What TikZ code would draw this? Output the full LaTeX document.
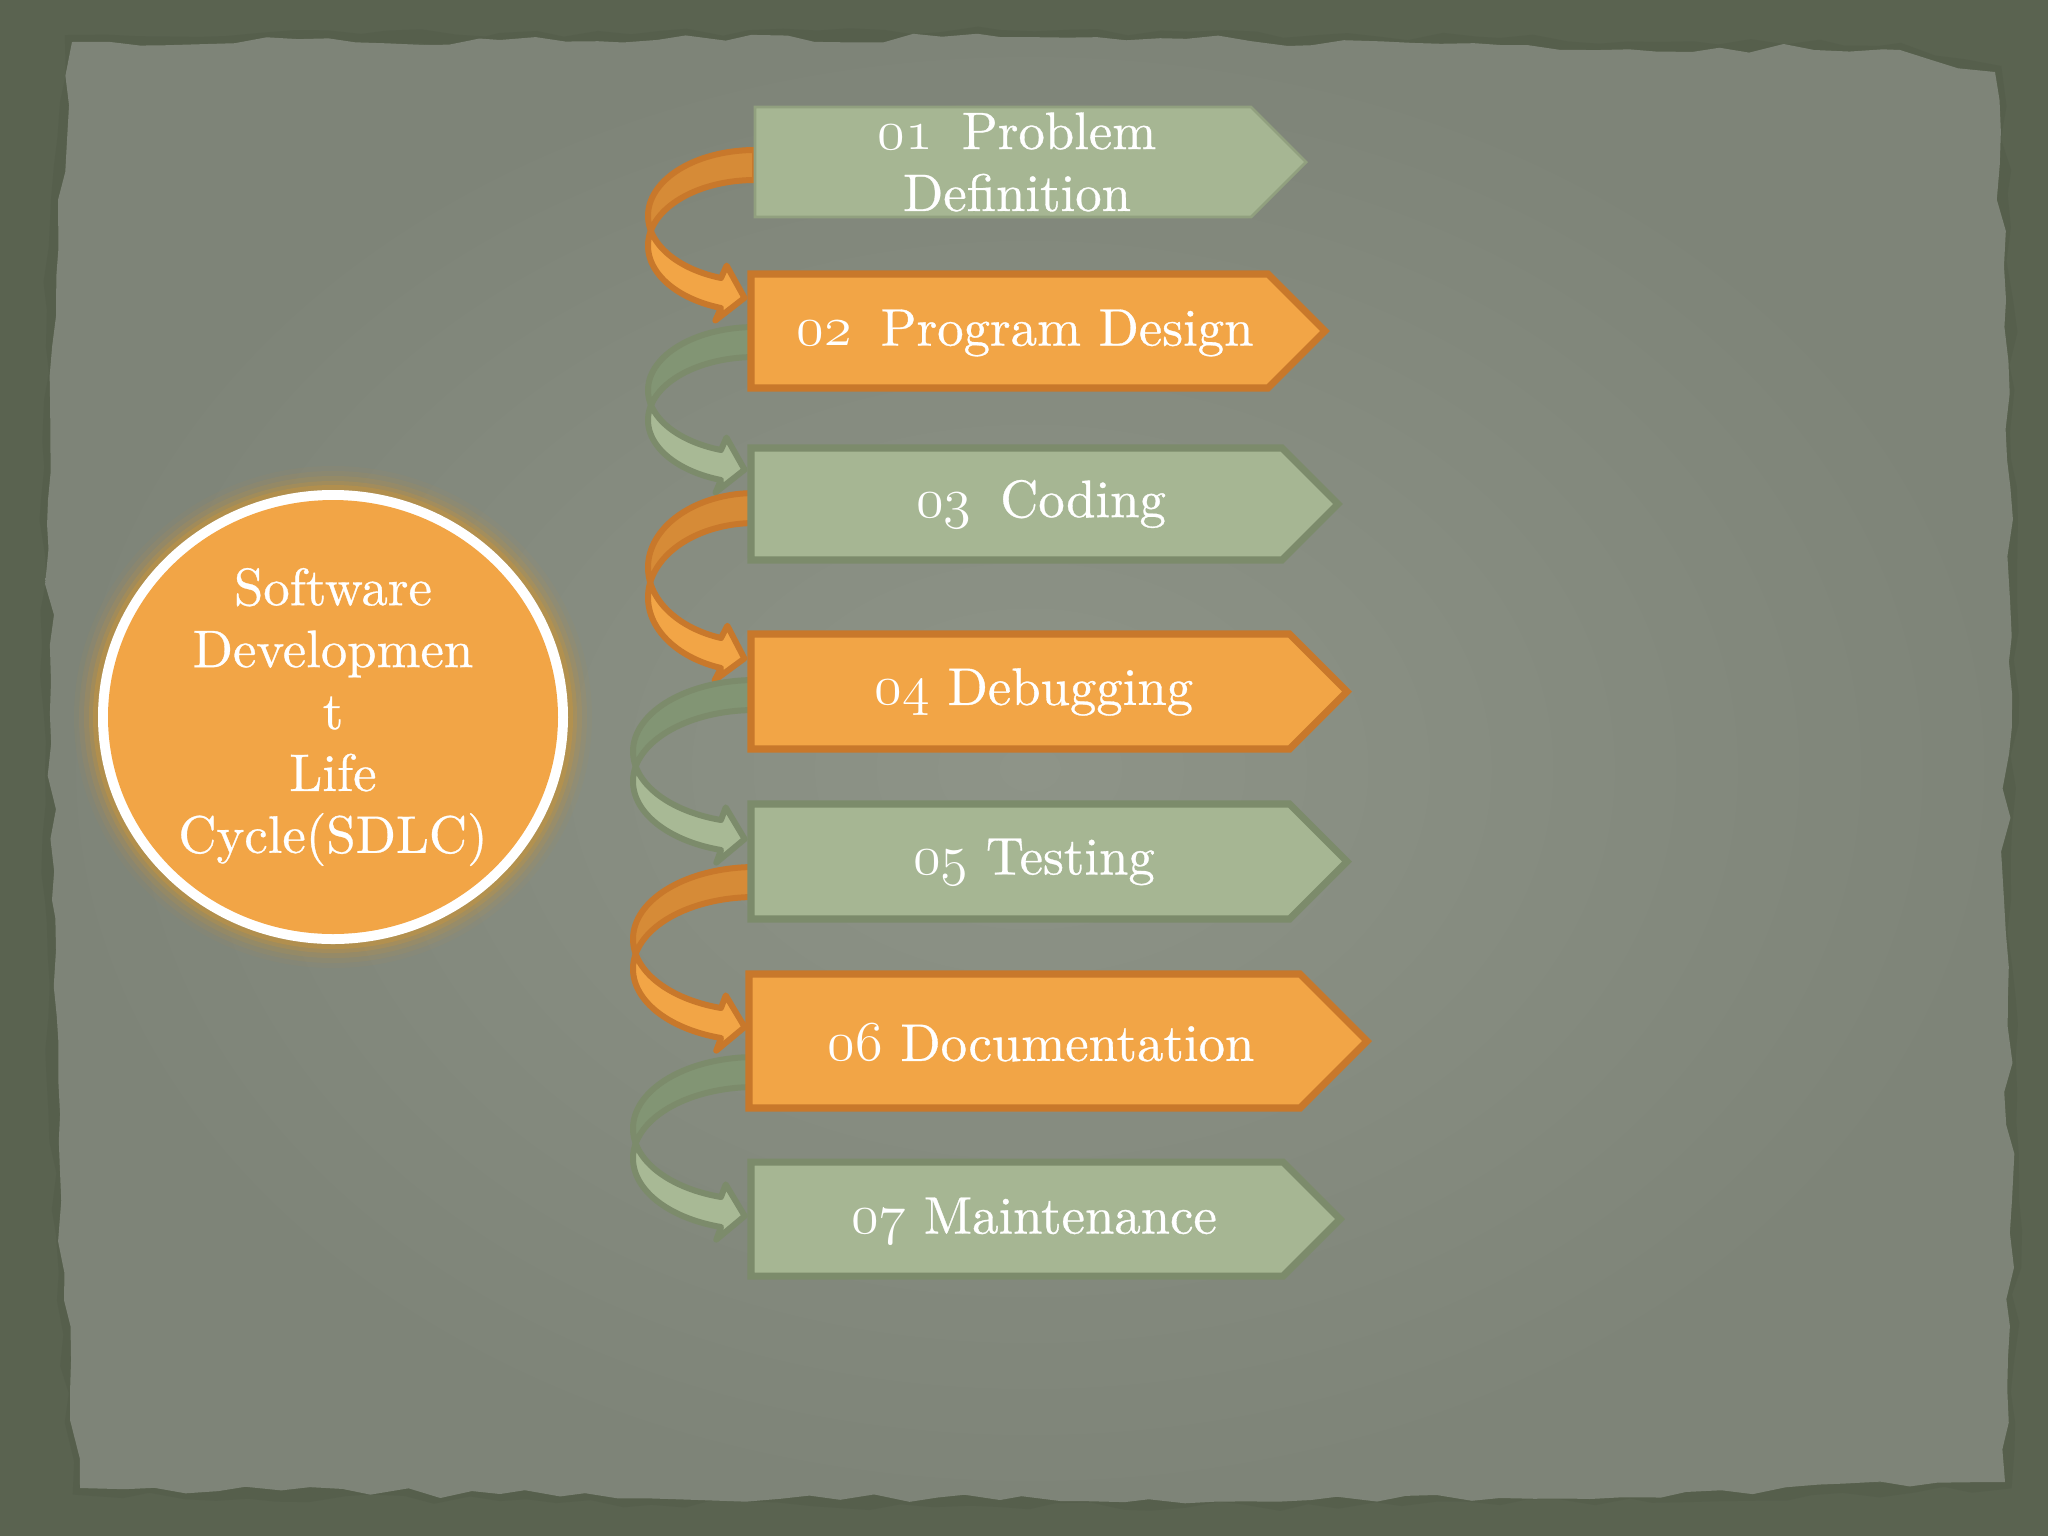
\documentclass[tikz,border=0pt]{standalone}
\usepackage{fix-cm}
\usepackage{fontspec}
\newfontfamily\labfont{lmroman10-regular.otf}[FakeBold=0.6]
\usetikzlibrary{decorations.pathmorphing,calc}
\definecolor{frame}{HTML}{5A6350}
\definecolor{paperhi}{HTML}{8E9488}
\definecolor{paperlo}{HTML}{7E8478}
\definecolor{gfill}{HTML}{A6B693}
\definecolor{gline}{HTML}{7C8B6B}
\definecolor{gback}{HTML}{829574}
\definecolor{gfront}{HTML}{A8B995}
\definecolor{ofill}{HTML}{F2A546}
\definecolor{oline}{HTML}{C8782B}
\definecolor{oback}{HTML}{D68B37}
\definecolor{glow}{HTML}{C9953B}
\newcommand\osn[1]{{\fontsize{16}{17.6}\selectfont$\mathnormal{#1}$}}
\newcommand\gap{\hspace{0.55em}}
\newcommand\chevbox[5]{\draw[#1] (#2,#3) -- ({#5-(#4-#3)/2},#3) -- (#5,{(#3+#4)/2}) -- ({#5-(#4-#3)/2},#4) -- (#2,#4) -- cycle;}
\newcommand\curvearrow[6]{%
\begin{scope}[shift={(#1)}]
\pgfmathsetmacro\rx{#3}
\pgfmathsetmacro\ae{acos(-34/\rx)}
\pgfmathsetmacro\se{sin(\ae)}
\pgfmathsetmacro\ce{cos(\ae)}
\pgfmathsetmacro\ry{(#2-8)/(1+\se)}
\pgfmathsetmacro\yc{\ry-12}
\pgfmathsetmacro\ax{asin(15/\ry)}
\pgfmathsetmacro\aone{180-\ax}
\pgfmathsetmacro\atwo{180+\ax}
\pgfmathsetmacro\uxr{\rx*\se}
\pgfmathsetmacro\uyr{-\ry*\ce}
\pgfmathsetmacro\un{veclen(\uxr,\uyr)}
\pgfmathsetmacro\ux{\uxr/\un}
\pgfmathsetmacro\uy{\uyr/\un}
\pgfmathsetmacro\mx{-34}
\pgfmathsetmacro\my{\yc+15+\ry*\se}
\filldraw[fill=#5, draw=#6, arrowline]
  plot[domain=270:\aone, samples=40, variable=\q] ({\rx*cos(\q)},{\yc+\ry*sin(\q)})
  -- plot[domain=\atwo:270, samples=40, variable=\q] ({\rx*cos(\q)},{\yc+30+\ry*sin(\q)}) -- cycle;
\filldraw[fill=#4, draw=#6, arrowline]
  plot[domain=\atwo:\ae, samples=40, variable=\q] ({\rx*cos(\q)},{\yc+30+\ry*sin(\q)})
  -- ({\mx-28*\uy},{\my+28*\ux}) -- ({\mx+24*\ux},{\my+24*\uy}) -- ({\mx+28*\uy},{\my-28*\ux})
  -- plot[domain=\ae:\aone, samples=40, variable=\q] ({\rx*cos(\q)},{\yc+\ry*sin(\q)}) -- cycle;
\end{scope}}
\tikzset{
  txt/.style={text=white, font=\labfont\fontsize{15}{17.6}\selectfont, align=center, inner sep=0pt},
  gbox/.style={fill=gfill, draw=gline, line width=2pt, line join=miter},
  gboxa/.style={fill=gfill, draw=gline!50!gfill, line width=0.8pt, line join=miter},
  obox/.style={fill=ofill, draw=oline, line width=2pt, line join=miter},
  arrowline/.style={line width=1.7pt, line join=round},
  torn/.style={decorate, decoration={random steps, segment length=9pt, amplitude=1.4pt}},
}
\begin{document}
\begin{tikzpicture}[x=0.01cm, y=-0.01cm]
\useasboundingbox (0,0) rectangle (2048,1536);
\pgfmathsetseed{11}
% background frame and paper
\fill[frame] (0,0) rectangle (2048,1536);
\def\paperpath{(72,42) -- (500,40) -- (1000,37) -- (1500,45) -- (1900,50) -- (1995,72) -- (2006,300) -- (2010,600) -- (2004,900) -- (2012,1200) -- (2005,1482) -- (1500,1498) -- (1000,1500) -- (500,1494) -- (80,1488) -- (64,1300) -- (52,900) -- (48,500) -- (58,200) -- cycle}
\draw[frame!85!black, opacity=0.25, line width=4pt, torn] \paperpath;
\shade[inner color=paperhi, outer color=paperlo, torn] \paperpath;
% start points of the curved connectors
\coordinate (s1) at (755,162);
\coordinate (s2) at (755,339);
\coordinate (s3) at (755,505);
\coordinate (s4) at (755,692);
\coordinate (s5) at (755,879);
\coordinate (s6) at (755,1069);
% curved connectors
\curvearrow{s1}{136}{107}{ofill}{oback}{oline}
\curvearrow{s2}{131}{107}{gfront}{gback}{gline}
\curvearrow{s3}{153}{107}{ofill}{oback}{oline}
\curvearrow{s4}{148}{122}{gfront}{gback}{gline}
\curvearrow{s5}{149}{122}{ofill}{oback}{oline}
\curvearrow{s6}{148}{122}{gfront}{gback}{gline}
% step boxes
\chevbox{gboxa}{755}{107}{217}{1306}
\chevbox{obox}{751}{274}{388}{1325}
\chevbox{gbox}{751}{448}{560}{1338}
\chevbox{obox}{751}{634}{749}{1347}
\chevbox{gbox}{751}{804}{919}{1347}
\chevbox{obox}{749}{974}{1108}{1367}
\chevbox{gbox}{751}{1162}{1276}{1340}
\node[txt] (t1) at (1017,162) {\osn{01}\gap Problem\\Definition};
\node[txt] (t2) at (1025,333) {\osn{02}\gap Program Design};
\node[txt] (t3) at (1041,504) {\osn{03}\gap Coding};
\node[txt] (t4) at (1034,692) {\osn{04} Debugging};
\node[txt] (t5) at (1034,862) {\osn{05} Testing};
\node[txt] (t6) at (1041,1043) {\osn{06} Documentation};
\node[txt] (t7) at (1034,1221) {\osn{07} Maintenance};
% central circle
\foreach \g/\o in {24/0.06, 19/0.1, 14/0.16, 9/0.26, 5/0.4} {
  \fill[glow, opacity=\o] (333,717) ellipse [x radius=235+\g, y radius=227+\g];
}
\fill[white] (333,717) ellipse [x radius=235, y radius=227];
\fill[ofill] (333,717) ellipse [x radius=225, y radius=217];
\node[txt] (sdlc) at (333,717) {Software\\Developmen\\t\\Life\\Cycle(SDLC)};
\end{tikzpicture}
\end{document}
